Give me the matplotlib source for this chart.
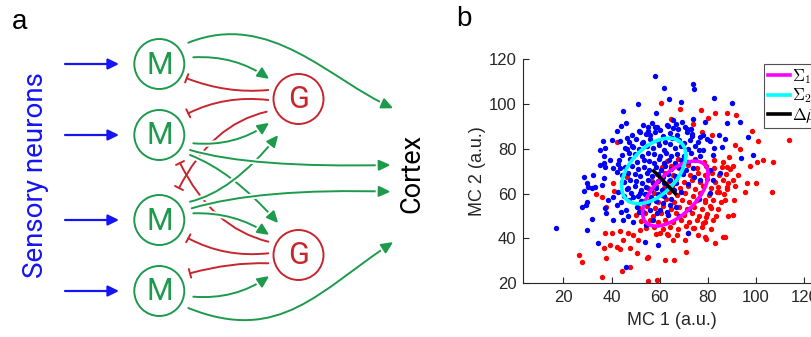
import numpy as np
import matplotlib
matplotlib.use("Agg")
import matplotlib.pyplot as plt
from matplotlib.patches import Circle, FancyArrowPatch
from matplotlib.path import Path
from matplotlib.lines import Line2D
import matplotlib.patheffects as pe

plt.rcParams["mathtext.fontset"] = "cm"

# ---------------------------------------------------------------- data (panel b)
blue_outer = [
    (58.2, 112.6), (61.9, 107.2), (73.7, 108.9), (74.4, 106.6), (64.0, 102.0),
    (68.8, 101.0), (50.9, 99.8), (44.6, 96.7), (58.3, 95.8), (82.5, 102.6),
    (89.9, 100.2), (87.9, 91.6), (93.3, 92.0), (96.5, 85.4), (93.6, 75.9),
    (98.8, 77.2), (87.1, 84.3), (44.1, 90.0), (46.0, 91.5), (42.3, 88.0),
    (40.0, 84.0), (36.3, 83.3), (37.3, 80.2), (35.4, 79.4), (39.5, 75.1),
    (36.9, 76.6), (37.0, 73.6), (37.3, 71.7), (40.7, 71.3), (42.7, 73.0),
    (35.2, 72.7), (32.2, 68.3), (28.7, 67.3), (29.7, 64.9), (30.4, 63.1),
    (28.7, 61.1), (31.8, 62.3), (33.1, 63.0), (35.9, 63.8), (37.0, 66.8),
    (27.9, 53.9), (29.4, 54.9), (30.0, 56.4), (32.0, 48.5), (29.7, 43.8),
    (16.8, 44.5), (34.5, 38.1), (45.9, 27.4), (53.9, 38.5), (59.4, 37.1),
    (54.2, 45.9), (40.7, 48.2), (37.9, 51.2), (37.2, 53.4), (38.7, 57.1),
    (40.7, 58.6), (42.1, 54.9), (43.9, 52.0), (44.9, 48.2), (47.0, 50.0),
    (49.1, 47.5), (42.8, 60.9), (44.2, 65.3), (43.5, 71.3), (42.1, 69.8),
    (46.3, 79.9), (43.5, 83.6), (46.3, 84.8), (49.0, 80.6), (53.2, 82.9),
    (51.8, 87.6), (55.3, 88.0), (58.0, 89.5), (63.3, 90.3), (67.5, 88.8),
    (71.2, 88.8), (73.9, 93.3), (78.8, 91.8), (73.3, 86.6), (77.8, 86.1),
    (80.9, 83.6), (84.7, 86.1), (82.5, 80.2), (85.7, 80.6), (76.1, 79.4),
    (82.2, 77.2), (80.9, 70.5), (85.0, 69.0), (82.2, 66.0), (76.7, 66.0),
    (74.3, 67.5), (80.9, 60.1), (76.4, 57.4), (72.3, 53.0), (68.1, 50.0),
    (63.6, 50.5), (57.3, 48.2), (59.0, 51.2), (50.4, 54.2), (52.9, 52.0),
    (49.0, 58.6), (51.8, 60.1), (46.3, 61.9), (71.8, 42.5), (65.6, 89.1),
    (65.6, 92.8), (69.1, 92.1), (55.0, 89.5), (56.0, 86.1), (59.0, 89.8),
]
blue_core = [
    (53.2, 90.4), (56.8, 91.3), (60.3, 88.2), (63.1, 90.6), (66.7, 91.1), (70.4, 89.6), (72.8, 88.7),
    (48.3, 86.2), (51.4, 88.1), (54.2, 86.5), (57.9, 87.3), (61.2, 85.8), (64.4, 87.1), (67.2, 86.3),
    (71.3, 87.4), (73.6, 85.7), (76.8, 85.2), (47.2, 83.1), (50.3, 84.4), (52.6, 82.7), (55.8, 84.2),
    (59.1, 83.6), (62.4, 82.9), (65.2, 84.7), (68.1, 83.8), (70.2, 82.6), (72.7, 84.1), (75.9, 82.8),
    (79.6, 84.3), (45.4, 80.2), (48.7, 81.3), (51.6, 79.7), (54.8, 81.2), (57.3, 80.4), (59.7, 81.5),
    (61.8, 79.6), (64.3, 81.9), (66.2, 80.1), (68.8, 81.2), (71.9, 79.8), (74.6, 81.1), (77.8, 79.6),
    (44.2, 77.3), (47.3, 78.1), (49.8, 77.6), (52.7, 76.8), (55.2, 78.3), (57.6, 77.5), (60.1, 76.6),
    (62.7, 78.2), (64.8, 76.9), (67.3, 77.8), (69.9, 76.7), (72.8, 77.9), (76.7, 76.8), (43.1, 74.8),
    (47.8, 75.3), (50.6, 73.9), (53.3, 75.1), (55.6, 74.6), (57.8, 73.8), (59.7, 75.2), (61.6, 73.7),
    (63.8, 74.9), (66.4, 73.6), (68.7, 74.8), (71.6, 73.9), (74.8, 75.1), (45.8, 71.7), (48.6, 72.3),
    (51.2, 70.8), (53.6, 71.9), (55.7, 70.6), (58.3, 71.8), (60.4, 70.7), (62.2, 72.1), (64.7, 70.9),
    (67.6, 71.8), (70.8, 70.6), (73.7, 71.6), (44.3, 68.2), (46.9, 69.3), (49.6, 68.6), (51.8, 67.8),
    (54.7, 69.1), (56.9, 67.7), (59.2, 68.8), (61.3, 67.6), (63.4, 68.9), (66.2, 67.8), (69.6, 68.7),
    (45.2, 65.3), (47.6, 66.2), (50.2, 65.7), (52.8, 64.8), (55.1, 66.1), (57.3, 64.7), (59.4, 65.8),
    (61.7, 64.6), (64.2, 65.9), (66.8, 64.8), (71.8, 64.1), (46.7, 62.6), (49.8, 63.2), (52.3, 61.8),
    (54.4, 62.9), (56.2, 61.6), (58.4, 62.7), (60.8, 61.7), (63.3, 62.8), (65.8, 61.6), (68.7, 60.9),
    (45.3, 59.1), (48.2, 60.3), (51.1, 58.8), (53.8, 59.7), (56.3, 58.6), (59.2, 59.8), (61.8, 58.7),
    (64.7, 57.8), (44.1, 56.2), (47.3, 57.1), (52.4, 56.7), (55.2, 55.8), (58.3, 56.9), (61.3, 55.6),
    (64.2, 54.8), (66.8, 54.1), (46.2, 52.8), (51.3, 51.7), (55.8, 52.9), (60.2, 52.6), (62.9, 51.6),
]
red_outer = [
    (60.4, 100.4), (77.1, 97.4), (83.0, 96.0), (87.8, 95.9), (91.5, 95.0),
    (98.4, 88.0), (100.7, 83.6), (113.8, 83.9), (93.3, 79.9), (91.2, 81.7),
    (88.9, 76.2), (100.2, 73.9), (97.5, 72.4), (103.0, 75.0), (106.9, 74.0),
    (90.5, 72.5), (88.0, 72.0), (92.6, 68.3), (96.1, 64.6), (100.0, 64.5),
    (95.4, 60.8), (90.5, 66.0), (88.5, 64.9), (87.8, 63.1), (91.2, 63.4),
    (84.4, 60.9), (90.8, 57.1), (87.0, 57.1), (88.2, 50.0), (106.7, 60.6),
    (90.5, 50.5), (87.1, 40.8), (79.0, 57.1), (81.1, 53.4), (79.4, 49.7),
    (78.1, 46.7), (78.8, 40.8), (79.2, 39.8), (83.0, 37.8), (86.4, 40.8),
    (73.9, 44.5), (70.5, 39.3), (65.6, 39.3), (63.6, 41.5), (60.1, 42.3),
    (66.1, 30.4), (62.2, 30.4), (55.0, 21.0), (54.6, 31.2), (55.3, 31.9),
    (50.4, 33.4), (47.7, 35.6), (43.5, 35.2), (44.9, 39.3), (42.1, 36.3),
    (39.3, 37.1), (37.0, 35.6), (37.7, 31.1), (35.9, 23.0), (26.6, 32.6),
    (27.6, 29.7), (44.2, 25.5), (47.7, 27.4), (51.1, 39.3), (47.0, 42.6),
    (43.5, 43.5), (40.0, 42.3), (37.3, 42.3), (49.0, 41.5), (51.8, 43.8),
    (33.6, 59.7), (35.9, 58.6), (37.9, 54.2), (46.3, 67.5), (40.7, 64.6),
    (42.3, 83.0), (79.9, 93.7), (73.9, 91.0), (81.7, 86.1), (77.4, 87.3),
    (64.6, 93.2), (41.0, 61.0), (68.3, 97.6), (58.7, 21.5), (71.0, 34.0),
]
red_core = [
    (63.2, 74.6), (67.4, 75.2), (71.3, 74.1), (74.8, 75.6), (78.2, 74.3), (82.6, 75.1), (86.3, 74.2),
    (61.1, 71.8), (64.7, 72.3), (68.2, 71.5), (71.7, 72.6), (75.3, 71.2), (79.1, 72.4), (82.4, 71.3),
    (85.8, 71.9), (89.2, 70.8), (58.8, 68.6), (62.3, 69.2), (65.6, 68.4), (69.1, 69.5), (72.4, 68.2),
    (75.8, 69.3), (78.7, 68.1), (81.9, 69.2), (84.6, 68.3), (87.7, 68.9), (56.7, 65.8), (60.2, 66.3),
    (63.7, 65.4), (66.8, 66.6), (70.2, 65.3), (73.3, 66.2), (76.6, 65.1), (79.8, 66.4), (83.1, 65.2),
    (86.2, 66.1), (55.3, 62.7), (58.6, 63.4), (61.9, 62.5), (65.2, 63.6), (68.4, 62.4), (71.6, 63.2),
    (74.7, 62.1), (77.9, 63.3), (81.2, 62.4), (84.3, 63.1), (88.1, 62.2), (54.2, 59.8), (57.6, 60.4),
    (60.8, 59.5), (63.9, 60.6), (67.3, 59.3), (70.6, 60.2), (73.8, 59.1), (76.9, 60.3), (80.3, 59.4),
    (83.6, 60.5), (86.8, 59.6), (52.8, 56.6), (56.1, 57.3), (59.4, 56.4), (62.7, 57.5), (65.8, 56.2),
    (69.2, 57.1), (72.3, 56.3), (75.6, 57.2), (78.8, 56.1), (82.2, 57.3), (85.4, 56.2), (51.6, 53.7),
    (54.9, 54.4), (58.2, 53.5), (61.4, 54.3), (64.6, 53.2), (67.9, 54.1), (71.2, 53.3), (74.4, 54.2),
    (77.7, 53.1), (80.9, 54.3), (84.1, 53.2), (50.3, 50.6), (53.7, 51.3), (57.1, 50.2), (60.5, 51.4),
    (63.6, 50.3), (66.9, 51.2), (70.1, 50.4), (73.2, 51.3), (76.5, 50.2), (79.8, 51.1), (83.3, 50.2),
    (52.4, 47.7), (55.8, 48.3), (59.2, 47.4), (62.4, 48.2), (65.7, 47.3), (68.8, 48.4), (72.1, 47.5),
    (75.3, 48.3), (78.6, 47.2), (82.1, 48.1), (54.3, 44.6), (57.7, 45.3), (61.2, 44.4), (64.4, 45.2),
    (67.6, 44.3), (70.9, 45.4), (74.2, 44.5), (77.4, 45.1), (81.3, 44.2), (58.6, 41.8), (62.9, 42.1),
    (67.2, 41.6), (71.6, 42.3), (75.8, 41.4),
]

# class means and covariances (MC 1, MC 2)
mu1 = [66.5, 60.0]
cov1 = [[185.0, 117.0], [117.0, 210.0]]
mu2 = [57.5, 70.1]
cov2 = [[177.0, 92.0], [92.0, 213.0]]

xticks = [20, 40, 60, 80, 100, 120]
yticks = [20, 40, 60, 80, 100, 120]
legend_labels = [r"$\Sigma_1$", r"$\Sigma_2$", r"$\Delta\bar{\mu}$"]

# ---------------------------------------------------------------- figure
W, H = 811, 337
fig = plt.figure(figsize=(W / 100, H / 100), dpi=100)

GREEN = "#1d9a4c"
RED = "#c8262e"
BLUE = "#1414f5"
SCH_FONT = ["Roboto", "DejaVu Sans"]

# ---------------------------------------------------------------- panel a: circuit schematic
sch = fig.add_axes([0, 0, 1, 1])
sch.set_xlim(0, W)
sch.set_ylim(H, 0)
sch.axis("off")

mx, m_rows = 159.3, [64, 135, 220, 291]
gx, g_rows = 298.5, [99, 255]
R = 25

for y in m_rows:
    sch.add_patch(Circle((mx, y), R, fill=False, ec=GREEN, lw=1.4, zorder=5))
    sch.text(mx, y + 1, "M", color=GREEN, fontsize=22, family=SCH_FONT,
             ha="center", va="center", zorder=6)
    sch.add_patch(FancyArrowPatch((65, y), (119, y), arrowstyle="-|>,head_length=0.65,head_width=0.32",
                                  mutation_scale=10, color=BLUE, lw=1.6, shrinkA=0, shrinkB=0))
for y in g_rows:
    sch.add_patch(Circle((gx, y), R, fill=False, ec=RED, lw=1.4, zorder=5))
    sch.text(gx, y + 1, "G", color=RED, fontsize=22, family=SCH_FONT,
             ha="center", va="center", zorder=6)

white_edge = [pe.Stroke(linewidth=4.2, foreground="white"), pe.Normal()]


def curve(pts, kind):
    codes = [Path.MOVETO] + ([Path.CURVE3] * 2 if len(pts) == 3 else [Path.CURVE4] * 3)
    path = Path(pts, codes)
    if kind == "exc":
        p = FancyArrowPatch(path=path, arrowstyle="-|>,head_length=0.7,head_width=0.32",
                            mutation_scale=10, color=GREEN, lw=1.4, shrinkA=0, shrinkB=0,
                            zorder=3, path_effects=white_edge)
    else:
        p = FancyArrowPatch(path=path, arrowstyle="-[,widthB=0.32,lengthB=0",
                            mutation_scale=10, color=RED, lw=1.4, shrinkA=0, shrinkB=0,
                            zorder=2)
    sch.add_patch(p)


# inhibitory feedback from granule cells
curve([(268.3, 90.0), (227, 94), (186.7, 78.3)], "inh")
curve([(268.3, 100.0), (225, 95), (188.3, 113.3)], "inh")
curve([(266.7, 111.7), (212, 124), (179, 188)], "inh")
curve([(268.3, 241.7), (212, 228), (180, 163)], "inh")
curve([(268.3, 253.3), (225, 258), (188.3, 238.3)], "inh")
curve([(268.3, 263.3), (231, 262), (190.0, 273.3)], "inh")

# excitatory projections from mitral cells
curve([(193.3, 57.3), (235, 55), (269.3, 79.0)], "exc")
curve([(193.3, 143.3), (235, 147), (269.3, 122.7)], "exc")
curve([(190.0, 155.0), (232, 171), (278.3, 223.3)], "exc")
curve([(190.0, 201.7), (232, 192), (278.3, 135.0)], "exc")
curve([(193.3, 213.3), (235, 212), (269.3, 235.0)], "exc")
curve([(193.3, 296.7), (235, 300), (269.3, 276.0)], "exc")
curve([(190.0, 150.0), (250, 168), (390.7, 165.0)], "exc")
curve([(191.7, 208.3), (260, 188), (390.7, 191.7)], "exc")
curve([(188.3, 42.7), (270, 10), (330, 80), (393.3, 108.3)], "exc")
curve([(188.3, 308.0), (280, 345), (320, 290), (393.3, 242.0)], "exc")

sch.text(20, 22, "a", fontsize=20, family=["Liberation Sans", "DejaVu Sans"],
         ha="center", va="center")
sch.text(36, 175, "Sensory neurons", rotation=90, color=BLUE, fontsize=20,
         family=SCH_FONT, ha="center", va="center")
sch.text(412, 173, "Cortex", rotation=90, color="black", fontsize=19.5,
         family=SCH_FONT, ha="center", va="center")
sch.text(464, 19, "b", fontsize=20, family=["Liberation Sans", "DejaVu Sans"],
         ha="center", va="center")

# ---------------------------------------------------------------- panel b: scatter
FONT_B = ["Liberation Sans", "DejaVu Sans"]
INK = "#262626"
xmin, xmax = 3.4, 135.0
ax = fig.add_axes([523.3 / W, (H - 283.3) / H, (xmax - xmin) * 2.41 / W, 224.3 / H])

red = np.array(red_outer + red_core)
blue = np.array(blue_outer + blue_core)
ax.scatter(red[:, 0], red[:, 1], s=15, c="#ff0000", linewidths=0, zorder=2)
ax.scatter(blue[:, 0], blue[:, 1], s=15, c="#0000ff", linewidths=0, zorder=2)

t = np.linspace(0, 2 * np.pi, 200)
circle = np.vstack([np.cos(t), np.sin(t)])
for mu, cov, col in [(mu1, cov1, "#ff00ff"), (mu2, cov2, "#00ffff")]:
    L = np.linalg.cholesky(np.array(cov))
    e = np.array(mu)[:, None] + L @ circle
    ax.plot(e[0], e[1], color=col, lw=2.6, zorder=3)
ax.plot([mu2[0], mu1[0]], [mu2[1], mu1[1]], color="black", lw=2.6, zorder=4)

ax.set_xlim(xmin, xmax)
ax.set_ylim(20, 120)
ax.set_xticks(xticks)
ax.set_yticks(yticks)
ax.tick_params(direction="in", length=4, width=0.8, colors=INK, labelsize=12, pad=5)
for lab in ax.get_xticklabels() + ax.get_yticklabels():
    lab.set_family(FONT_B)
for s in ("top", "right"):
    ax.spines[s].set_visible(False)
for s in ("left", "bottom"):
    ax.spines[s].set_color(INK)
    ax.spines[s].set_linewidth(0.8)

fig.text(672 / W, 1 - 320.5 / H, "MC 1 (a.u.)", fontsize=13, family=FONT_B, color=INK,
         ha="center", va="center")
fig.text(477 / W, 1 - 171 / H, "MC 2 (a.u.)", fontsize=13, family=FONT_B, color=INK,
         rotation=90, ha="center", va="center")

handles = [Line2D([], [], color=c, lw=2.6) for c in ("#ff00ff", "#00ffff", "black")]
leg = ax.legend(handles, legend_labels, loc="upper left",
                bbox_to_anchor=((764.3 - 523.3) / ((xmax - xmin) * 2.41), (283.3 - 64.0) / 224.3),
                borderaxespad=0, fontsize=12, handlelength=1.35, handletextpad=0.12,
                borderpad=0.2, labelspacing=0.02, frameon=True, fancybox=False)
leg.get_frame().set_edgecolor(INK)
leg.get_frame().set_linewidth(0.8)

fig.savefig("out.png", dpi=100)
